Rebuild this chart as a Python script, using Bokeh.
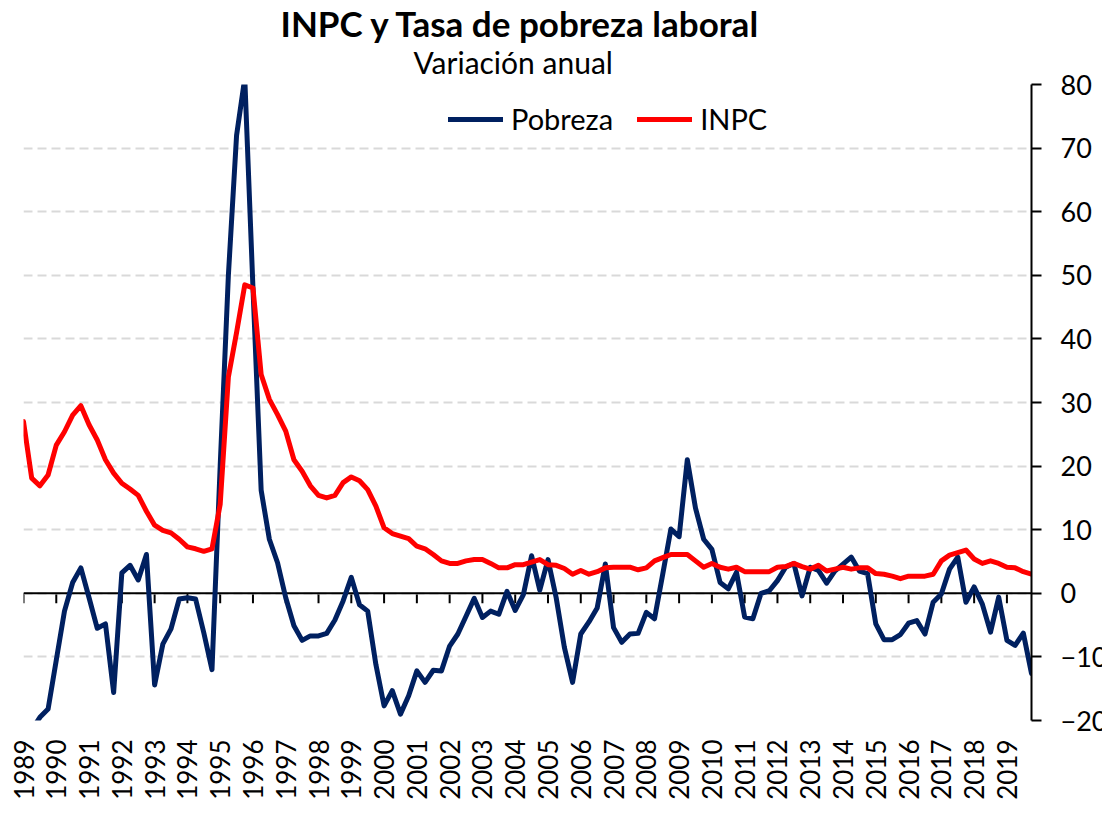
from math import pi
from bokeh.plotting import figure
from bokeh.models import Range1d, FixedTicker, Span, Title, Legend, LegendItem
from bokeh.embed import file_html
from bokeh.resources import INLINE

# ---- data (quarterly, 1989Q1 .. 2019Q4) ----
years = list(range(1989, 2020))
pobreza = [
    -25.0, -21.5, -19.5, -18.2, -10.5, -2.8, 1.7, 4.0,
    -0.7, -5.5, -4.8, -15.6, 3.2, 4.4, 2.1, 6.1,
    -14.4, -8.0, -5.6, -0.9, -0.7, -0.9, -6.2, -12.0,
    20.0, 50.0, 72.0, 81.0, 48.0, 16.2, 8.5, 4.8,
    -0.7, -5.1, -7.4, -6.7, -6.7, -6.3, -4.2, -1.2,
    2.5, -1.8, -2.8, -11.2, -17.7, -15.3, -19.0, -16.1,
    -12.2, -14.0, -12.1, -12.2, -8.3, -6.4, -3.6, -0.8,
    -3.8, -2.8, -3.3, 0.3, -2.7, -0.2, 5.9, 0.5,
    5.3, -0.7, -8.5, -14.0, -6.4, -4.5, -2.3, 4.6,
    -5.4, -7.7, -6.4, -6.3, -3.0, -4.0, 3.0, 10.1,
    8.9, 21.0, 13.4, 8.5, 6.9, 1.7, 0.7, 3.3,
    -3.75, -4.0, 0.0, 0.4, 2.0, 4.1, 4.7, -0.4,
    4.1, 3.6, 1.6, 3.5, 4.6, 5.7, 3.5, 3.1,
    -4.8, -7.3, -7.3, -6.5, -4.7, -4.3, -6.4, -1.4,
    -0.1, 3.8, 5.7, -1.4, 1.0, -1.7, -6.1, -0.6,
    -7.4, -8.2, -6.25, -12.6,
]
inpc = [
    27.0, 18.1, 16.9, 18.6, 23.3, 25.4, 28.0, 29.5,
    26.5, 24.1, 21.0, 18.9, 17.3, 16.4, 15.4, 12.9,
    10.7, 9.9, 9.5, 8.5, 7.3, 7.0, 6.6, 7.0,
    14.0, 34.0, 41.0, 48.5, 48.0, 34.4, 30.5, 28.1,
    25.5, 21.0, 19.2, 16.9, 15.4, 15.0, 15.4, 17.4,
    18.3, 17.7, 16.3, 13.7, 10.3, 9.4, 9.0, 8.6,
    7.4, 7.0, 6.1, 5.1, 4.7, 4.7, 5.1, 5.3,
    5.3, 4.7, 4.0, 4.0, 4.5, 4.5, 4.9, 5.3,
    4.5, 4.4, 3.9, 3.0, 3.6, 3.0, 3.4, 4.0,
    4.1, 4.1, 4.1, 3.7, 4.0, 5.1, 5.6, 6.1,
    6.1, 6.1, 5.1, 4.1, 4.7, 4.1, 3.8, 4.1,
    3.4, 3.4, 3.4, 3.4, 4.1, 4.2, 4.7, 4.2,
    3.8, 4.4, 3.5, 3.8, 4.1, 3.8, 4.0, 4.0,
    3.1, 3.0, 2.7, 2.3, 2.7, 2.7, 2.7, 3.0,
    5.1, 6.0, 6.4, 6.8, 5.4, 4.7, 5.1, 4.7,
    4.1, 4.0, 3.4, 3.0,
]
y_ticks = list(range(-20, 81, 10))

x = list(range(len(inpc)))
year_idx = [4 * k for k in range(len(years))]

FONT = "Lato"
BLUE = "#002060"
RED = "#FF0000"

p = figure(frame_width=1008, frame_height=636,
           x_range=Range1d(0, len(x) - 1), y_range=Range1d(-20, 80),
           y_axis_location="right", output_backend="svg", toolbar_location=None,
           min_border_left=23, min_border_top=84, min_border_right=0, min_border_bottom=0)
p.outline_line_color = None
p.background_fill_color = "white"

# grid
p.xgrid.visible = False
p.ygrid.ticker = FixedTicker(ticks=y_ticks)
p.ygrid.grid_line_color = "#d9d9d9"
p.ygrid.grid_line_dash = "9 5"
p.ygrid.grid_line_width = 2

# right y axis
ya = p.yaxis[0]
ya.ticker = FixedTicker(ticks=y_ticks)
ya.axis_line_color = "black"
ya.axis_line_width = 2
ya.major_tick_line_color = "black"
ya.major_tick_line_width = 2
ya.major_tick_out = 10
ya.major_tick_in = 0
ya.minor_tick_line_color = None
ya.major_label_text_font = FONT
ya.major_label_text_font_size = "27px"
ya.major_label_text_color = "black"
ya.major_label_standoff = 19

# bottom x axis (labels only)
xa = p.xaxis[0]
xa.ticker = FixedTicker(ticks=year_idx)
xa.major_label_overrides = {i: str(yv) for i, yv in zip(year_idx, years)}
xa.major_label_orientation = pi / 2
xa.axis_line_color = None
xa.major_tick_line_color = None
xa.minor_tick_line_color = None
xa.major_tick_out = 0
xa.major_tick_in = 0
xa.major_label_text_font = FONT
xa.major_label_text_font_size = "26px"
xa.major_label_text_color = "black"
xa.major_label_standoff = 19

# zero line with year ticks
p.add_layout(Span(location=0, dimension="width", line_color="black", line_width=2, level="underlay"))
tick_len = 10 / 6.36
p.segment(x0=year_idx, y0=[0] * len(year_idx), x1=year_idx, y1=[-tick_len] * len(year_idx),
          line_color="black", line_width=2, level="underlay")

# series
r_pob = p.line(x, pobreza, line_color=BLUE, line_width=5, line_join="round", line_cap="round")
r_inpc = p.line(x, inpc, line_color=RED, line_width=5, line_join="round", line_cap="round")

legend = Legend(items=[LegendItem(label="Pobreza", renderers=[r_pob]),
                       LegendItem(label="INPC", renderers=[r_inpc])],
                orientation="horizontal", location=(425, 584),
                glyph_width=55, glyph_height=30, label_height=30,
                label_standoff=8, spacing=24, padding=0, margin=0,
                border_line_color=None, background_fill_alpha=0,
                label_text_font=FONT, label_text_font_size="29px", label_text_color="black")
p.add_layout(legend)

# titles (first added sits closest to the frame)
p.add_layout(Title(text="Variación anual", align="left", offset=390, standoff=10,
                   text_font=FONT, text_font_size="30px", text_font_style="normal",
                   text_color="black"), "above")
p.add_layout(Title(text="INPC y Tasa de pobreza laboral", align="left", offset=257, standoff=-14,
                   text_font=FONT, text_font_size="35px", text_font_style="bold",
                   text_color="black"), "above")

open("out.html", "w").write(file_html(p, INLINE))
